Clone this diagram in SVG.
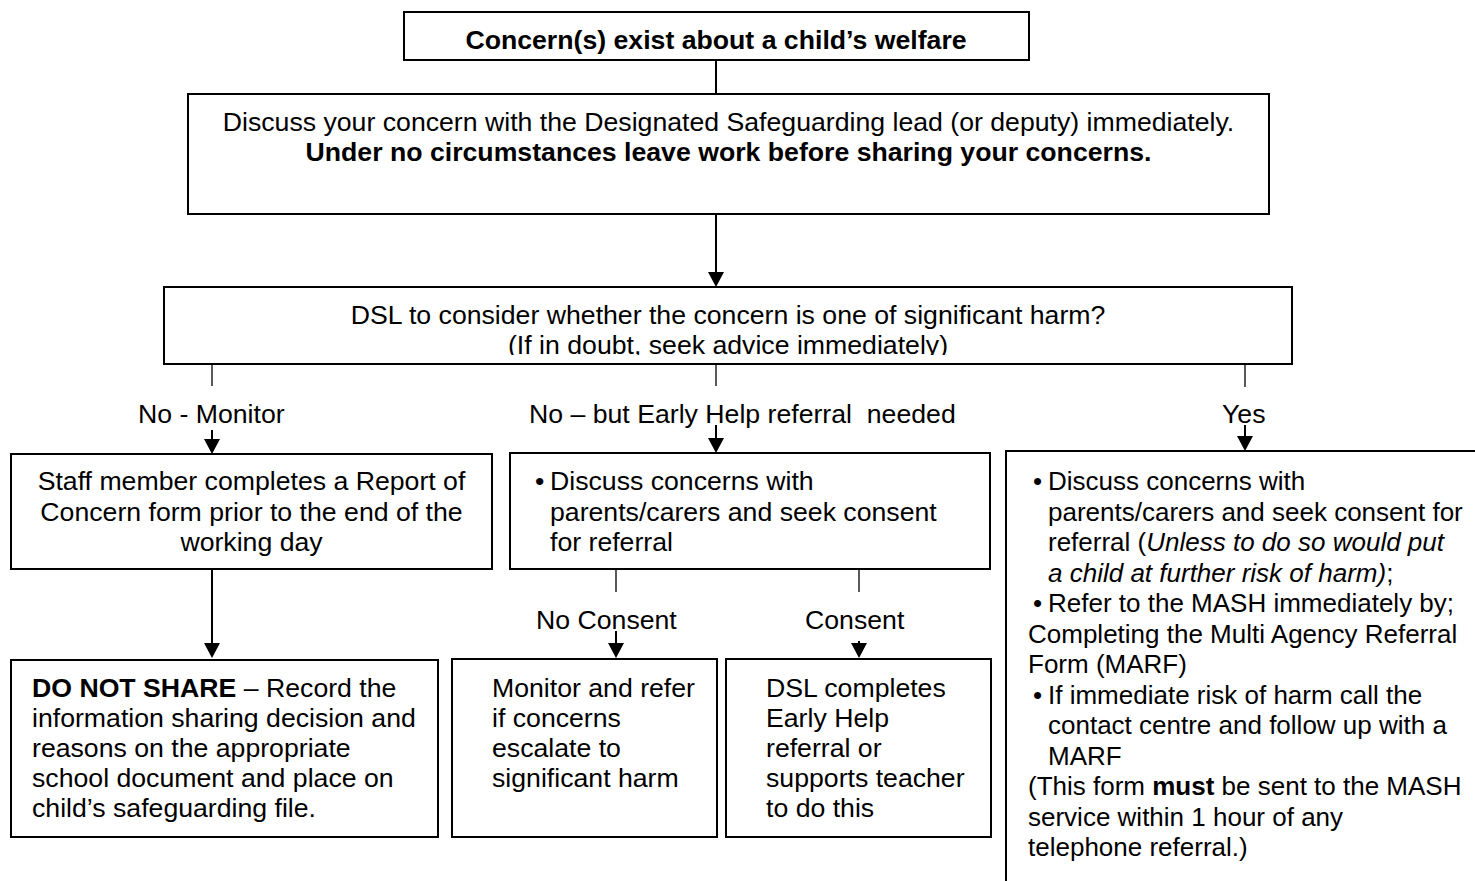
<svg xmlns="http://www.w3.org/2000/svg" width="1475" height="881" viewBox="0 0 1475 881">
<style>
  text { font-family: "Liberation Sans", Arial, sans-serif; font-size: 26.67px; fill: #000; white-space: pre; }
  #n-yes text { font-size: 26px; }
  .b { font-weight: bold; }
  .i { font-style: italic; }
  .c { text-anchor: middle; }
  .box { fill: #fff; stroke: #000; stroke-width: 2; }
  .ln { stroke: #000; stroke-width: 2; fill: none; }
  .stub { stroke: #000; stroke-width: 1.3; fill: none; }
  .arr { stroke: #000; stroke-width: 2; fill: none; marker-end: url(#ah); }
</style>
<defs>
  <marker id="ah" viewBox="0 0 15 16" refX="11" refY="8" markerWidth="15" markerHeight="16" markerUnits="userSpaceOnUse" orient="auto">
    <path d="M0,0 L15,8 L0,16 Z" fill="#000"/>
  </marker>
  <clipPath id="clip3"><rect x="164" y="287" width="1128" height="68"/></clipPath>
</defs>

<g id="connectors">
  <line class="ln" x1="716" y1="61" x2="716" y2="94"/>
  <line class="arr" x1="716" y1="214" x2="716" y2="283"/>
  <line class="stub" x1="212" y1="364" x2="212" y2="386"/>
  <line class="stub" x1="716" y1="364" x2="716" y2="386"/>
  <line class="stub" x1="1245" y1="364" x2="1245" y2="387"/>
  <line class="arr" x1="212" y1="430" x2="212" y2="450"/>
  <line class="arr" x1="716" y1="425" x2="716" y2="449"/>
  <line class="arr" x1="1245" y1="425" x2="1245" y2="447"/>
  <line class="arr" x1="212" y1="569" x2="212" y2="654"/>
  <line class="stub" x1="616" y1="569" x2="616" y2="592"/>
  <line class="stub" x1="859" y1="569" x2="859" y2="592"/>
  <line class="arr" x1="616" y1="631" x2="616" y2="654"/>
  <line class="arr" x1="859" y1="641" x2="859" y2="654"/>
</g>

<g id="labels">
  <text x="138" y="423">No - Monitor</text>
  <text x="529" y="423">No – but Early Help referral  needed</text>
  <text x="1222" y="423">Yes</text>
  <text x="536" y="629">No Consent</text>
  <text x="805" y="629">Consent</text>
</g>

<g id="n-concern">
  <rect class="box" x="404" y="12" width="625" height="48"/>
  <text class="b c" x="716" y="49">Concern(s) exist about a child’s welfare</text>
</g>

<g id="n-discuss">
  <rect class="box" x="188" y="94" width="1081" height="120"/>
  <text class="c" x="728.5" y="131">Discuss your concern with the Designated Safeguarding lead (or deputy) immediately.</text>
  <text class="b c" x="728.5" y="161">Under no circumstances leave work before sharing your concerns.</text>
</g>

<g id="n-dsl">
  <rect class="box" x="164" y="287" width="1128" height="77"/>
  <g clip-path="url(#clip3)">
    <text class="c" x="728" y="324">DSL to consider whether the concern is one of significant harm?</text>
    <text class="c" x="728" y="354">(If in doubt, seek advice immediately)</text>
  </g>
</g>

<g id="n-staff">
  <rect class="box" x="11" y="454" width="481" height="115"/>
  <text class="c" x="251.5" y="490">Staff member completes a Report of</text>
  <text class="c" x="251.5" y="520.5">Concern form prior to the end of the</text>
  <text class="c" x="251.5" y="551">working day</text>
</g>

<g id="n-earlyhelp">
  <rect class="box" x="510" y="453" width="480" height="116"/>
  <text x="535" y="490">•</text>
  <text x="550" y="490">Discuss concerns with</text>
  <text x="550" y="520.5">parents/carers and seek consent</text>
  <text x="550" y="551">for referral</text>
</g>

<g id="n-yes">
  <rect class="box" x="1006" y="451" width="500" height="460"/>
  <text x="1033" y="490">•</text>
  <text x="1048" y="490">Discuss concerns with</text>
  <text x="1048" y="520.5">parents/carers and seek consent for</text>
  <text x="1048" y="551">referral (<tspan class="i">Unless to do so would put</tspan></text>
  <text x="1048" y="581.5"><tspan class="i">a child at further risk of harm)</tspan>;</text>
  <text x="1033" y="612">•</text>
  <text x="1048" y="612">Refer to the MASH immediately by;</text>
  <text x="1028" y="642.5">Completing the Multi Agency Referral</text>
  <text x="1028" y="673">Form (MARF)</text>
  <text x="1033" y="703.5">•</text>
  <text x="1048" y="703.5">If immediate risk of harm call the</text>
  <text x="1048" y="734">contact centre and follow up with a</text>
  <text x="1048" y="764.5">MARF</text>
  <text x="1028" y="795">(This form <tspan class="b">must</tspan> be sent to the MASH</text>
  <text x="1028" y="825.5">service within 1 hour of any</text>
  <text x="1028" y="856">telephone referral.)</text>
</g>

<g id="n-donotshare">
  <rect class="box" x="11" y="660" width="427" height="177"/>
  <text x="32" y="697"><tspan class="b">DO NOT SHARE</tspan> – Record the</text>
  <text x="32" y="727">information sharing decision and</text>
  <text x="32" y="757">reasons on the appropriate</text>
  <text x="32" y="787">school document and place on</text>
  <text x="32" y="817">child’s safeguarding file.</text>
</g>

<g id="n-monitor">
  <rect class="box" x="452" y="659" width="265" height="178"/>
  <text x="492" y="697">Monitor and refer</text>
  <text x="492" y="727">if concerns</text>
  <text x="492" y="757">escalate to</text>
  <text x="492" y="787">significant harm</text>
</g>

<g id="n-dslcompletes">
  <rect class="box" x="726" y="659" width="265" height="178"/>
  <text x="766" y="697">DSL completes</text>
  <text x="766" y="727">Early Help</text>
  <text x="766" y="757">referral or</text>
  <text x="766" y="787">supports teacher</text>
  <text x="766" y="817">to do this</text>
</g>
</svg>
